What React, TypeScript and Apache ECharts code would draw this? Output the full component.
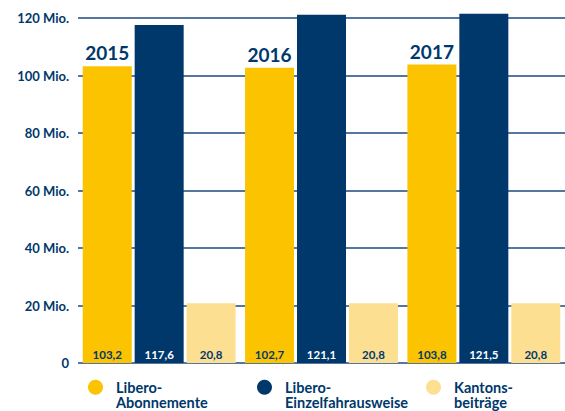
import React, { useEffect, useRef } from "react";
import * as echarts from "echarts";

const categories = ["2015", "2016", "2017"];
const abonnemente = [103.2, 102.7, 103.8];
const einzelfahrausweise = [117.6, 121.1, 121.5];
const kantonsbeitraege = [20.8, 20.8, 20.8];
const yearMarks = [0, 0, 0];
const seriesNames = ["Libero-Abonnemente", "Libero-Einzelfahrausweise", "Kantons-beiträge"];

const NAVY = "#00386b";
const YELLOW = "#fbc300";
const LIGHT = "#fddf91";
const FONT = "Lato, 'Open Sans', sans-serif";

const fmt = (v: number) => v.toFixed(1).replace(".", ",");

export default function App() {
  const ref = useRef<HTMLDivElement>(null);
  useEffect(() => {
    if (!ref.current) return;
    const chart = echarts.init(ref.current, undefined, { renderer: "svg" });
    const valueLabel = (color: string) => ({
      show: true,
      position: "insideBottom",
      distance: 3,
      color,
      fontFamily: FONT,
      fontWeight: "bold",
      fontSize: 11.5,
      formatter: (p: any) => fmt(p.value),
    });
    const barStyle = (color: string) => ({ color });
    const legendAt = (name: string, left: number) => ({
      show: true,
      data: [name],
      left,
      top: 364,
      padding: 0,
      icon: "circle",
      itemWidth: 15,
      itemHeight: 15,
      selectedMode: false,
      formatter: (n: string) => "\n" + n.replace("-", "-\n"),
      textStyle: {
        color: NAVY,
        fontFamily: FONT,
        fontWeight: "bold",
        fontSize: 14.5,
        lineHeight: 15.5,
        padding: [0, 0, 0, 8],
      },
    });
    chart.setOption({
      animation: false,
      grid: { left: 78, right: -12, top: 18, bottom: 48, containLabel: false },
      legend: [
        legendAt(seriesNames[0], 88),
        legendAt(seriesNames[1], 257),
        legendAt(seriesNames[2], 426),
      ],
      xAxis: {
        type: "category",
        data: categories,
        axisLine: { show: false },
        axisTick: { show: false },
        axisLabel: { show: false },
      },
      yAxis: {
        type: "value",
        min: 0,
        max: 120,
        interval: 20,
        axisLine: { show: false },
        axisTick: { show: false },
        splitLine: { show: true, lineStyle: { color: "#1d4a7c", width: 1.5 } },
        axisLabel: {
          margin: 9,
          color: NAVY,
          fontFamily: FONT,
          fontWeight: "bold",
          fontSize: 13,
          formatter: (v: number) => (v === 0 ? "0" : `${v} Mio.`),
        },
      },
      series: [
        {
          name: seriesNames[0],
          type: "bar",
          stack: "abo",
          barWidth: 49,
          clip: false,
          data: abonnemente,
          itemStyle: barStyle(YELLOW),
          label: valueLabel(NAVY),
        },
        {
          name: "year",
          type: "bar",
          stack: "abo",
          barWidth: 49,
          clip: false,
          data: yearMarks,
          silent: true,
          itemStyle: { color: "rgba(0,0,0,0)", borderWidth: 0 },
          label: {
            show: true,
            position: "top",
            distance: 4,
            color: NAVY,
            fontFamily: FONT,
            fontWeight: "bold",
            fontSize: 19,
            formatter: (p: any) => categories[p.dataIndex],
          },
        },
        {
          name: seriesNames[1],
          type: "bar",
          barWidth: 49,
          clip: false,
          data: einzelfahrausweise,
          itemStyle: barStyle(NAVY),
          label: valueLabel("#ffffff"),
        },
        {
          name: seriesNames[2],
          type: "bar",
          barWidth: 49,
          barGap: "6%",
          clip: false,
          data: kantonsbeitraege,
          itemStyle: barStyle(LIGHT),
          label: valueLabel(NAVY),
        },
      ],
    });
    return () => chart.dispose();
  }, []);
  return <div ref={ref} style={{ width: 565, height: 411, position: "absolute", left: 0, top: 0 }} />;
}
